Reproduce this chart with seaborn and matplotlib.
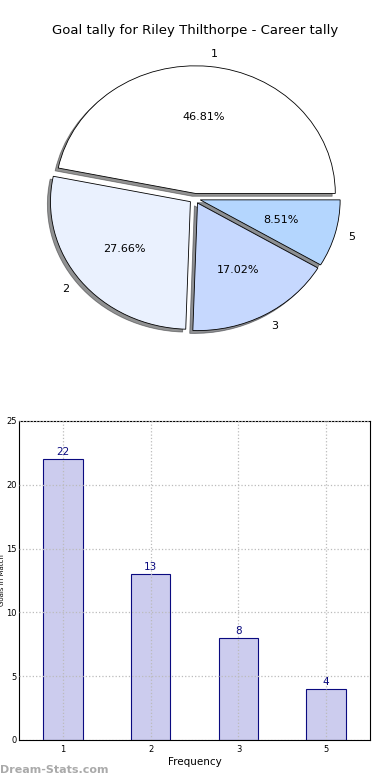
import numpy as np
import pandas as pd
import matplotlib
matplotlib.use("Agg")
import matplotlib.pyplot as plt
import seaborn as sns

# goal tally data
categories = ["1", "2", "3", "5"]
counts = [22, 13, 8, 4]
pie_colors = ["#ffffff", "#eaf1fe", "#c6d8fe", "#b4d6fe"]

sns.set_style("white")
plt.rcParams["font.family"] = ["DejaVu Sans"]
plt.rcParams["text.color"] = "black"
plt.rcParams["xtick.color"] = "black"
plt.rcParams["ytick.color"] = "black"
plt.rcParams["axes.labelcolor"] = "black"

fig = plt.figure(figsize=(3.9, 7.8), dpi=100)

# Pie chart (top)
ax1 = fig.add_axes([0.051, 0.541, 0.897, 0.409])
wedges, texts, autotexts = ax1.pie(
    counts, labels=categories, colors=pie_colors, autopct="%.2f%%",
    startangle=0, explode=[0.04] * len(counts),
    shadow=dict(ox=-0.016, oy=-0.016, shade=0.85),
    labeldistance=1.1, pctdistance=0.6,
    wedgeprops=dict(edgecolor="black", linewidth=0.6),
    textprops=dict(fontsize=8, color="black"))
ax1.set_aspect("auto")
ax1.set_xlim(-1.25, 1.25)
ax1.set_ylim(-1.25, 1.25)
fig.text(0.5, 0.961, "Goal tally for Riley Thilthorpe - Career tally",
         ha="center", va="center", fontsize=9.5)

# Bar chart (bottom)
ax2 = fig.add_axes([0.049, 0.0513, 0.9, 0.409])
df = pd.DataFrame({"goals": categories, "count": counts})
sns.barplot(data=df, x="goals", y="count", order=categories, ax=ax2,
            color="#ccccee", edgecolor="#0a0a80", linewidth=0.8,
            width=0.45, saturation=1)
ax2.set_ylim(0, 25)
ax2.set_xlim(-0.5, 3.5)
ax2.set_yticks([0, 5, 10, 15, 20, 25])
ax2.grid(True, linestyle=":", color="#bbbbbb", linewidth=0.9)
ax2.set_axisbelow(False)
for spine in ax2.spines.values():
    spine.set_color("black")
    spine.set_linewidth(0.8)
ax2.tick_params(axis="both", labelsize=6, direction="in", length=3)
ax2.tick_params(axis="y", pad=1.5)
ax2.set_xlabel("Frequency", fontsize=7.5, labelpad=2)
ax2.set_ylabel("Goals in Match", fontsize=5)
ax2.yaxis.set_label_coords(-0.04, 0.5)
for i, c in enumerate(counts):
    ax2.text(i, c + 0.15, str(c), ha="center", va="bottom",
             fontsize=7.5, color="#0a0a80")

fig.text(0.0, 0.013, "Dream-Stats.com", ha="left", va="center",
         fontsize=8, color="#aaaaaa", fontweight="bold")

fig.savefig("out.png", dpi=100)
